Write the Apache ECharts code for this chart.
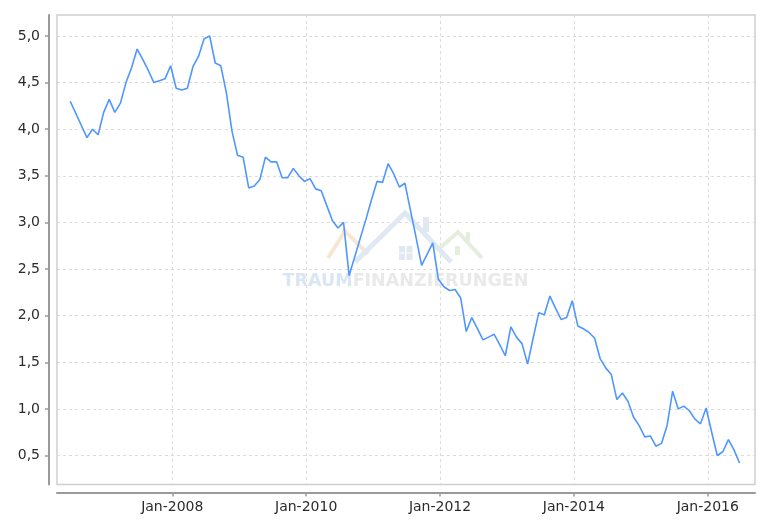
<!DOCTYPE html>
<html>
<head>
<meta charset="utf-8">
<script src="https://cdn.jsdelivr.net/npm/echarts@6/dist/echarts.min.js"></script>
<style>
html,body{margin:0;padding:0;background:#fff;}
#chart{width:780px;height:527px;}
</style>
</head>
<body>
<div id="chart"></div>
<script>
// ---- data ----
const startYear = 2006;
const startMonth = 6;      // first observation: June 2006
const pointDay = 22;       // observations fall late in each month
const rates = [
  // 2006 (Jun-Dec)
  4.30, 4.17, 4.04, 3.91, 4.00, 3.94, 4.18,
  // 2007
  4.32, 4.18, 4.28, 4.50, 4.66, 4.86, 4.75, 4.63, 4.50, 4.52, 4.54, 4.68,
  // 2008
  4.44, 4.42, 4.44, 4.67, 4.78, 4.97, 5.00, 4.71, 4.68, 4.39, 3.98, 3.72,
  // 2009
  3.70, 3.37, 3.39, 3.46, 3.70, 3.65, 3.65, 3.48, 3.48, 3.58, 3.50, 3.44,
  // 2010
  3.47, 3.36, 3.34, 3.18, 3.02, 2.94, 3.00, 2.43, 2.63, 2.83, 3.03, 3.24,
  // 2011
  3.44, 3.43, 3.63, 3.52, 3.38, 3.42, 3.13, 2.84, 2.54, 2.66, 2.78, 2.39,
  // 2012
  2.31, 2.27, 2.28, 2.19, 1.83, 1.98, 1.86, 1.74, 1.77, 1.80, 1.69, 1.57,
  // 2013
  1.88, 1.77, 1.70, 1.48, 1.76, 2.03, 2.01, 2.21, 2.08, 1.96, 1.98, 2.16,
  // 2014
  1.89, 1.86, 1.82, 1.76, 1.54, 1.44, 1.37, 1.10, 1.17, 1.08, 0.91, 0.82,
  // 2015
  0.70, 0.71, 0.60, 0.63, 0.82, 1.19, 1.00, 1.03, 0.98, 0.89, 0.84, 1.01,
  // 2016 (Jan-Jun)
  0.75, 0.50, 0.54, 0.67, 0.56, 0.42
];
const xTickLabels = ['Jan-2008', 'Jan-2010', 'Jan-2012', 'Jan-2014', 'Jan-2016'];
const yTickLabels = ['0,5', '1,0', '1,5', '2,0', '2,5', '3,0', '3,5', '4,0', '4,5', '5,0'];
const xRange = ['2006-04-11', '2016-09-15'];
const yRange = [0.189, 5.225];

// ---- helpers: dates -> months since Jan of startYear ----
function monthPos(y, m, d) { return (y - startYear) * 12 + (m - 1) + (d - 1) / 30; }
function parseDate(s) { const p = s.split('-').map(Number); return monthPos(p[0], p[1], p[2] || 1); }
const seriesData = rates.map(function (v, i) {
  const mi = startMonth - 1 + i;
  const y = startYear + Math.floor(mi / 12);
  const m = (mi % 12) + 1;
  return [monthPos(y, m, pointDay), v];
});
const monthNames = {Jan:1,Feb:2,Mar:3,Apr:4,May:5,Jun:6,Jul:7,Aug:8,Sep:9,Oct:10,Nov:11,Dec:12};
const xTickValues = xTickLabels.map(function (s) {
  const p = s.split('-'); return monthPos(Number(p[1]), monthNames[p[0]], 1);
});
const yTickValues = yTickLabels.map(function (s) { return Number(s.replace(',', '.')); });

const FONT = 'DejaVu Sans';
const chart = echarts.init(document.getElementById('chart'), null, {renderer: 'canvas'});
chart.setOption({
  animation: false,
  backgroundColor: '#ffffff',
  grid: {
    left: 57, right: 25, top: 15, bottom: 42.5,
    show: true, borderColor: '#cfcfcf', borderWidth: 1.5, backgroundColor: 'transparent'
  },
  xAxis: {
    type: 'value',
    min: parseDate(xRange[0]), max: parseDate(xRange[1]),
    offset: 8,
    axisLine: {show: true, lineStyle: {color: '#9a9a9a', width: 2}},
    axisTick: {show: true, length: 4, customValues: xTickValues, lineStyle: {color: '#9a9a9a', width: 1.5}},
    axisLabel: {
      customValues: xTickValues, margin: 8, color: '#2b2b2b', fontFamily: FONT, fontSize: 14,
      formatter: function (v) {
        const i = xTickValues.findIndex(function (t) { return Math.abs(t - v) < 1e-6; });
        return i >= 0 ? xTickLabels[i] : '';
      }
    },
    splitLine: {show: true, lineStyle: {color: '#dcdcdc', type: [3, 3], width: 1}}
  },
  yAxis: {
    type: 'value',
    min: yRange[0], max: yRange[1],
    offset: 8,
    axisLine: {show: true, lineStyle: {color: '#9a9a9a', width: 2}},
    axisTick: {show: true, length: 4, customValues: yTickValues, lineStyle: {color: '#9a9a9a', width: 1.5}},
    axisLabel: {
      customValues: yTickValues, margin: 9, color: '#2b2b2b', fontFamily: FONT, fontSize: 14,
      formatter: function (v) {
        const i = yTickValues.findIndex(function (t) { return Math.abs(t - v) < 1e-6; });
        return i >= 0 ? yTickLabels[i] : '';
      }
    },
    splitLine: {show: true, lineStyle: {color: '#dcdcdc', type: [3, 3], width: 1}}
  },
  graphic: [
    // watermark houses
    {type: 'polyline', z: 1, shape: {points: [[328, 258], [345, 231], [368, 254]]}, style: {stroke: '#f8e6d4', lineWidth: 4, fill: null}},
    {type: 'polyline', z: 1, shape: {points: [[355, 262], [405, 213], [451, 262]]}, style: {stroke: '#e0e9f3', lineWidth: 5, fill: null}},
    {type: 'rect', z: 1, shape: {x: 423, y: 217, width: 6, height: 15}, style: {fill: '#e0e9f3'}},
    {type: 'rect', z: 1, shape: {x: 399, y: 246, width: 6, height: 6.5}, style: {fill: '#e0e9f3'}},
    {type: 'rect', z: 1, shape: {x: 406.5, y: 246, width: 6, height: 6.5}, style: {fill: '#e0e9f3'}},
    {type: 'rect', z: 1, shape: {x: 399, y: 253.5, width: 6, height: 6.5}, style: {fill: '#e0e9f3'}},
    {type: 'rect', z: 1, shape: {x: 406.5, y: 253.5, width: 6, height: 6.5}, style: {fill: '#e0e9f3'}},
    {type: 'polyline', z: 1, shape: {points: [[440, 248], [458, 232], [482, 258]]}, style: {stroke: '#e3eedc', lineWidth: 4, fill: null}},
    {type: 'rect', z: 1, shape: {x: 466, y: 232, width: 4, height: 9}, style: {fill: '#e3eedc'}},
    {type: 'rect', z: 1, shape: {x: 455, y: 246, width: 5, height: 9}, style: {fill: '#e3eedc'}},
    {
      type: 'text', z: 1, x: 405.5, y: 281,
      style: {
        text: '{a|TRAUM}{b|FINANZIERUNGEN}',
        align: 'center', verticalAlign: 'middle',
        rich: {
          a: {fill: '#dae6f3', fontFamily: FONT, fontWeight: 'bold', fontSize: 17.5},
          b: {fill: '#e9e9e9', fontFamily: FONT, fontWeight: 'bold', fontSize: 17.5}
        }
      }
    }
  ],
  series: [{
    type: 'line',
    data: seriesData,
    showSymbol: false,
    z: 3,
    lineStyle: {color: '#4f97ff', width: 1.6},
    itemStyle: {color: '#4f97ff'}
  }]
});
</script>
</body>
</html>
